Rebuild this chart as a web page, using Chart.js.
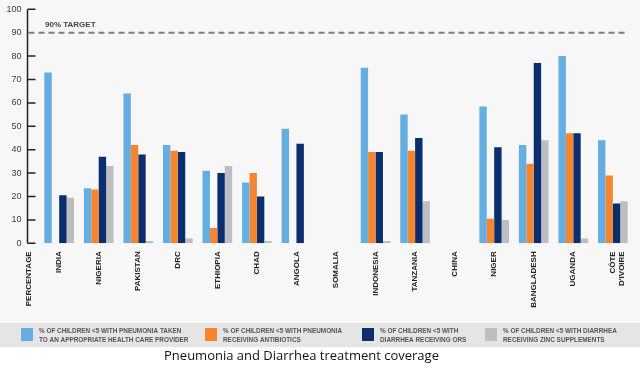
<!DOCTYPE html>
<html>
<head>
<meta charset="utf-8">
<script src="https://cdn.jsdelivr.net/npm/chart.js@4.4.1/dist/chart.umd.min.js"></script>
<style>
  html, body { margin: 0; padding: 0; background: #ffffff; }
  #wrap { width: 640px; height: 370px; position: relative; }
</style>
</head>
<body>
<div id="wrap"><canvas id="c" width="640" height="370"></canvas></div>
<script>
// ---- data ----
const categories = ['INDIA', 'NIGERIA', 'PAKISTAN', 'DRC', 'ETHIOPIA', 'CHAD', 'ANGOLA', 'SOMALIA',
  'INDONESIA', 'TANZANIA', 'CHINA', 'NIGER', 'BANGLADESH', 'UGANDA', ['CÔTE', "D'IVOIRE"]];
const pneumoniaCare = [73, 23.5, 64, 42, 31, 26, 49, null, 75, 55, null, 58.5, 42, 80, 44];
const pneumoniaAntibiotics = [null, 23, 42, 39.5, 6.5, 30, null, null, 39, 39.5, null, 10.5, 34, 47, 29];
const diarrheaORS = [20.5, 37, 38, 39, 30, 20, 42.5, null, 39, 45, null, 41, 77, 47, 17];
const diarrheaZinc = [19.5, 33, 1, 2, 33, 1, null, null, 1, 18, null, 10, 44, 2, 18];
const seriesLabels = [
  ['% OF CHILDREN <5 WITH PNEUMONIA TAKEN', 'TO AN APPROPRIATE HEALTH CARE PROVIDER'],
  ['% OF CHILDREN <5 WITH PNEUMONIA', 'RECEIVING ANTIBIOTICS'],
  ['% OF CHILDREN <5 WITH', 'DIARRHEA RECEIVING ORS'],
  ['% OF CHILDREN <5 WITH DIARRHEA', 'RECEIVING ZINC SUPPLEMENTS']
];
const yTicks = [0, 10, 20, 30, 40, 50, 60, 70, 80, 90, 100];
const targetValue = 90;
const targetLabel = '90% TARGET';
const axisTitle = 'PERCENTAGE';
const chartTitle = 'Pneumonia and Diarrhea treatment coverage';
const colors = ['#66ade0', '#f5862f', '#0b2f6e', '#bdbec2'];

// ---- plugin for decorations ----
const deco = {
  id: 'deco',
  beforeDraw(chart) {
    const ctx = chart.ctx;
    ctx.save();
    ctx.fillStyle = '#f7f7f7';
    ctx.fillRect(0, 0, 640, 323);
    ctx.fillStyle = '#e5e5e6';
    ctx.fillRect(0, 323, 640, 24);
    ctx.fillStyle = '#ffffff';
    ctx.fillRect(0, 347, 640, 23);
    ctx.restore();
  },
  afterDraw(chart) {
    const ctx = chart.ctx;
    const y = chart.scales.y;
    const axisX = 27.5;
    ctx.save();
    // target dashed line
    const ty = y.getPixelForValue(targetValue);
    ctx.strokeStyle = '#7d7d7d';
    ctx.lineWidth = 2;
    ctx.setLineDash([6, 4]);
    ctx.beginPath();
    ctx.moveTo(axisX + 1, ty);
    ctx.lineTo(628, ty);
    ctx.stroke();
    ctx.setLineDash([]);
    // y axis line + ticks
    ctx.strokeStyle = '#222222';
    ctx.lineWidth = 1.5;
    ctx.beginPath();
    ctx.moveTo(axisX, y.getPixelForValue(0));
    ctx.lineTo(axisX, y.getPixelForValue(100));
    yTicks.forEach(v => {
      if (v === targetValue) return;
      const p = y.getPixelForValue(v);
      ctx.moveTo(axisX, p);
      ctx.lineTo(axisX + 8, p);
    });
    ctx.stroke();
    // target label
    ctx.fillStyle = '#444444';
    ctx.font = 'bold 8px "Liberation Sans", Arial, sans-serif';
    ctx.textAlign = 'left';
    ctx.textBaseline = 'middle';
    ctx.fillText(targetLabel, 45, ty - 8);
    // axis title (rotated, like category labels)
    ctx.save();
    ctx.translate(29, y.getPixelForValue(0) + 8);
    ctx.rotate(-Math.PI / 2);
    ctx.textAlign = 'right';
    ctx.textBaseline = 'middle';
    ctx.fillStyle = '#222222';
    ctx.fillText(axisTitle, 0, 0);
    ctx.restore();
    // legend
    const sqX = [21, 205, 362, 485];
    ctx.font = 'bold 6.4px "Liberation Sans", Arial, sans-serif';
    chart.data.datasets.forEach((ds, i) => {
      ctx.fillStyle = ds.backgroundColor;
      ctx.fillRect(sqX[i], 328, 12, 13);
      ctx.fillStyle = '#555555';
      ctx.textAlign = 'left';
      ctx.textBaseline = 'middle';
      ds.label.forEach((line, j) => ctx.fillText(line, sqX[i] + 18, 331.5 + j * 8.5));
    });
    // title
    ctx.fillStyle = '#111111';
    ctx.font = '13px "Open Sans", "Noto Sans", sans-serif';
    ctx.textAlign = 'center';
    ctx.textBaseline = 'middle';
    ctx.fillText(chartTitle, 301.5, 356);
    ctx.restore();
  }
};

const mk = (label, data, color) => ({
  label, data, backgroundColor: color, borderWidth: 0,
  categoryPercentage: 0.75, barPercentage: 1.0
});

new Chart(document.getElementById('c'), {
  type: 'bar',
  data: {
    labels: categories,
    datasets: [
      mk(seriesLabels[0], pneumoniaCare, colors[0]),
      mk(seriesLabels[1], pneumoniaAntibiotics, colors[1]),
      mk(seriesLabels[2], diarrheaORS, colors[2]),
      mk(seriesLabels[3], diarrheaZinc, colors[3])
    ]
  },
  options: {
    responsive: false,
    animation: false,
    devicePixelRatio: 1,
    layout: { padding: { top: 9.3, right: 7.4, left: 0, bottom: 0 } },
    plugins: { legend: { display: false }, title: { display: false }, tooltip: { enabled: false } },
    scales: {
      x: {
        offset: true,
        grid: { display: false, drawTicks: false },
        border: { display: false },
        ticks: {
          autoSkip: false, maxRotation: 90, minRotation: 90, padding: 8,
          color: '#222222',
          font: { family: '"Liberation Sans", Arial, sans-serif', size: 8, weight: 'bold', lineHeight: 1.1 }
        },
        afterFit(s) { s.height = 370 - 243.3; s.paddingLeft = 0; s.paddingRight = 0; }
      },
      y: {
        min: 0, max: 100,
        afterBuildTicks(s) { s.ticks = yTicks.map(v => ({ value: v })); },
        grid: { display: false, drawTicks: false },
        border: { display: false },
        ticks: {
          padding: 18, color: '#3d3d3d',
          font: { family: '"Liberation Sans", Arial, sans-serif', size: 9 }
        },
        afterFit(s) { s.width = 39.4; s.paddingTop = 0; s.paddingBottom = 0; }
      }
    }
  },
  plugins: [deco]
});
</script>
</body>
</html>
